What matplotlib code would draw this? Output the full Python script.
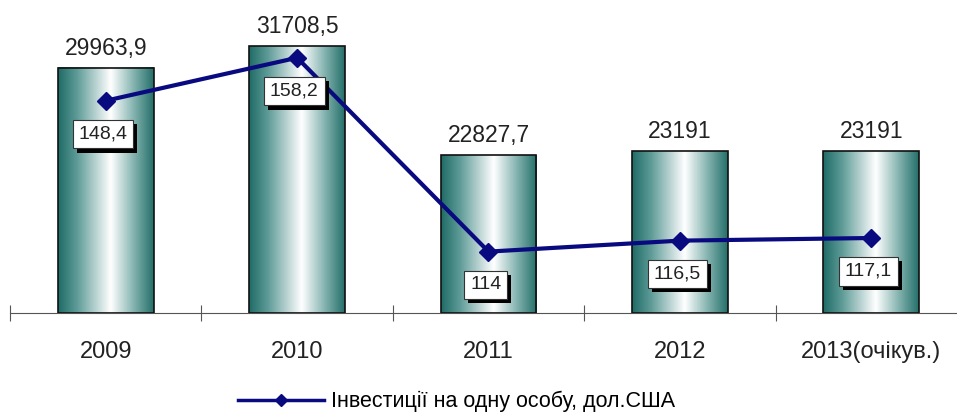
import numpy as np
import matplotlib.pyplot as plt
import matplotlib.patheffects as pe
from matplotlib.colors import LinearSegmentedColormap
from matplotlib.lines import Line2D
from matplotlib.patches import Rectangle

plt.rcParams['font.family'] = ['Liberation Sans', 'DejaVu Sans']

years = ['2009', '2010', '2011', '2012', '2013(очікув.)']
totals = [29963.9, 31708.5, 22827.7, 23191, 23191]
total_labels = ['29963,9', '31708,5', '22827,7', '23191', '23191']
per_person = [148.4, 158.2, 114, 116.5, 117.1]
per_person_labels = ['148,4', '158,2', '114', '116,5', '117,1']
legend_label = 'Інвестиції на одну особу, дол.США'

teal = LinearSegmentedColormap.from_list(
    'cyl', [(0.0, '#1f6b66'), (0.2, '#5f9c98'), (0.55, '#ffffff'),
            (0.8, '#7fb0ac'), (1.0, '#256f6a')])
grad = np.linspace(0, 1, 256).reshape(1, -1)

fig = plt.figure(figsize=(9.57, 4.15), dpi=100)
ax = fig.add_axes([10 / 957, 102 / 415, 957 / 957, 307 / 415])
x = np.arange(len(years))
w = 0.5
ax.set_xlim(-0.5, len(years) - 0.5)
ax.set_ylim(10000, 35000)

for xi, v, lab in zip(x, totals, total_labels):
    ax.imshow(grad, cmap=teal, aspect='auto',
              extent=(xi - w / 2, xi + w / 2, 10000, v), zorder=2)
    ax.add_patch(Rectangle((xi - w / 2, 10000), w, v - 10000, fill=False,
                           edgecolor='#111111', lw=1.2, zorder=3))
    ax.annotate(lab, (xi, v), xytext=(0, 6), textcoords='offset points',
                ha='center', va='bottom', fontsize=16.5, color='#222222')

for s in ['top', 'right', 'left']:
    ax.spines[s].set_visible(False)
ax.spines['bottom'].set_color('#555555')
ax.set_yticks([])
ax.set_xticks(np.arange(len(years) + 1) - 0.5)
ax.set_xticklabels([])
ax.set_xticks(x, minor=True)
ax.set_xticklabels(years, minor=True, fontsize=17, color='#222222')
ax.tick_params(axis='x', which='major', direction='inout', length=12,
               color='#555555')
ax.tick_params(axis='x', which='minor', length=0, pad=20)

ax2 = ax.twinx()
ax2.set_ylim(100, 170)
ax2.axis('off')
ax2.plot(x, per_person, color='#0a0a80', lw=3, marker='D', markersize=9,
         zorder=5)
for xi, v, lab in zip(x, per_person, per_person_labels):
    t = ax2.annotate(lab, (xi, v), xytext=(-2, -24), textcoords='offset points',
                     ha='center', va='center', fontsize=14, color='#222222',
                     bbox=dict(boxstyle='square,pad=0.3', fc='white',
                               ec='#333333', lw=0.8),
                     zorder=7)
    t.get_bbox_patch().set_path_effects(
        [pe.SimplePatchShadow(offset=(3, -3), shadow_rgbFace='black', alpha=1),
         pe.Normal()])

handle = Line2D([], [], color='#0a0a80', lw=2.5, marker='D', markersize=6)
fig.legend([handle], [legend_label], loc='lower center',
           bbox_to_anchor=(0.477, -0.04), frameon=False, fontsize=15.5,
           handlelength=4, handletextpad=0.3)

fig.savefig('out.png', dpi=100)
